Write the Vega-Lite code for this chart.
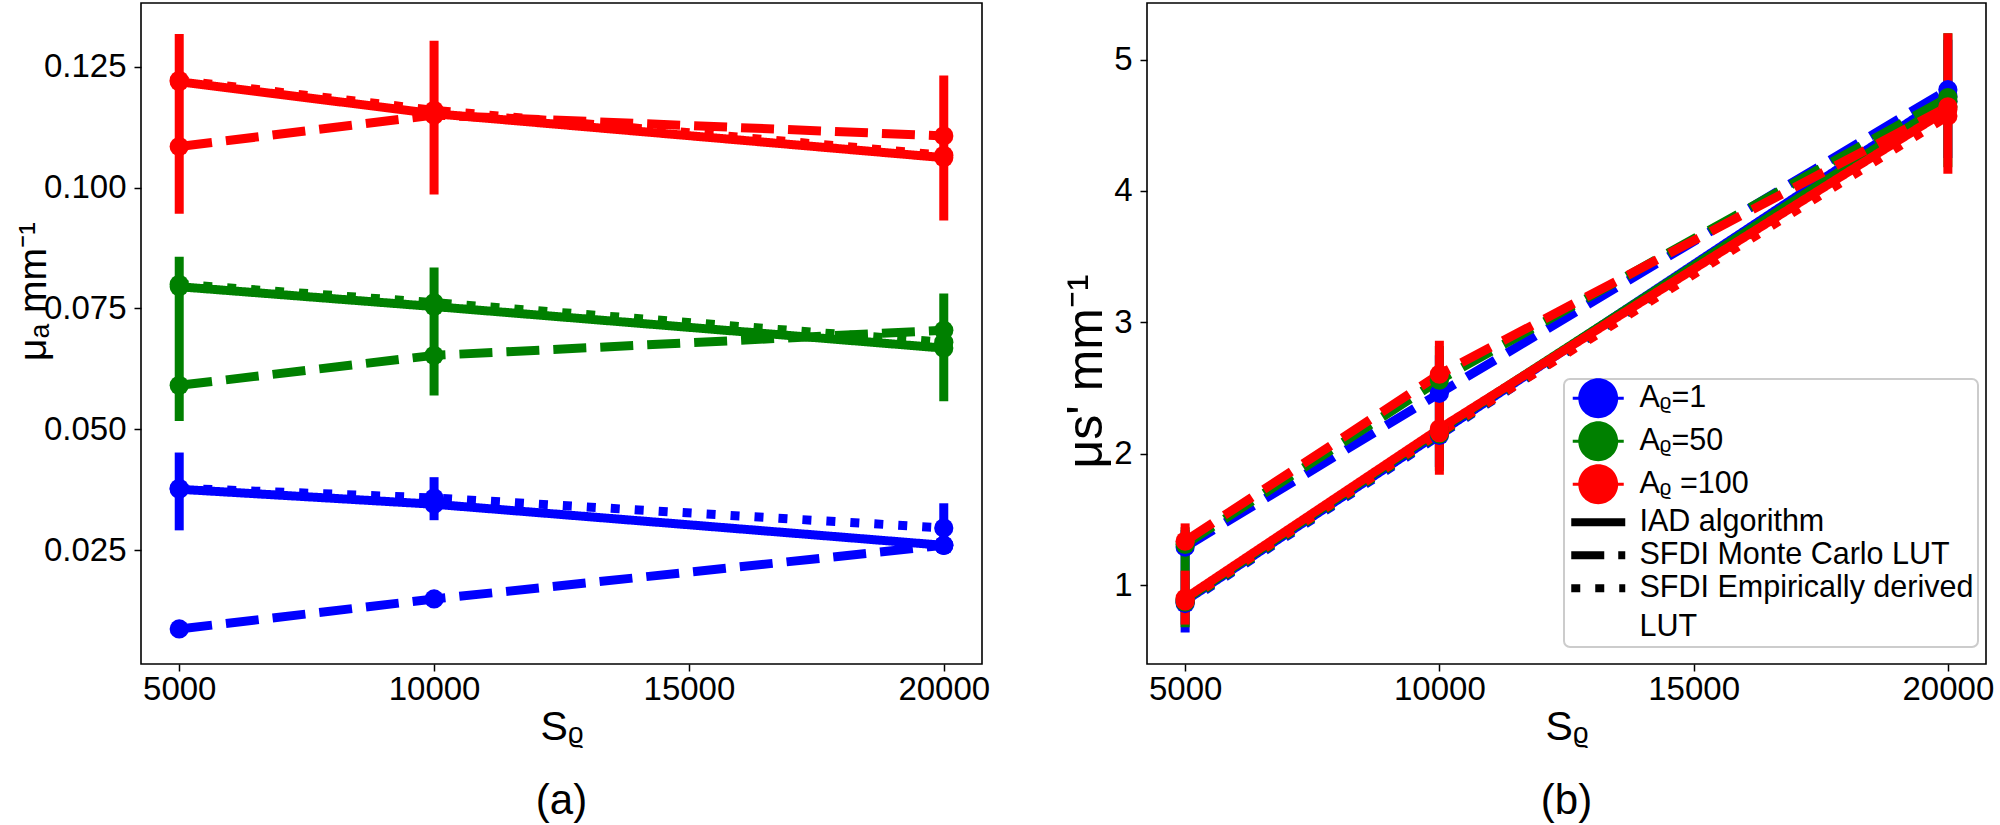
{
  "$schema": "https://vega.github.io/schema/vega-lite/v6.json",
  "background": "white",
  "padding": {"left": 13, "top": 2, "right": 5, "bottom": 0},
  "spacing": 165,
  "bounds": "flush",
  "resolve": {"legend": {"color": "independent"}},
  "datasets": {
    "pts": [
      {"panel": "a", "A": "Aᵨ=1", "method": "IAD algorithm", "S": 5000, "v": 0.0376},
      {"panel": "a", "A": "Aᵨ=1", "method": "IAD algorithm", "S": 10000, "v": 0.0345},
      {"panel": "a", "A": "Aᵨ=1", "method": "IAD algorithm", "S": 20000, "v": 0.0260},
      {"panel": "a", "A": "Aᵨ=1", "method": "SFDI Monte Carlo LUT", "S": 5000, "v": 0.0087},
      {"panel": "a", "A": "Aᵨ=1", "method": "SFDI Monte Carlo LUT", "S": 10000, "v": 0.0149},
      {"panel": "a", "A": "Aᵨ=1", "method": "SFDI Monte Carlo LUT", "S": 20000, "v": 0.0260},
      {"panel": "a", "A": "Aᵨ=1", "method": "SFDI Empirically derived LUT", "S": 5000, "v": 0.0378},
      {"panel": "a", "A": "Aᵨ=1", "method": "SFDI Empirically derived LUT", "S": 10000, "v": 0.0358},
      {"panel": "a", "A": "Aᵨ=1", "method": "SFDI Empirically derived LUT", "S": 20000, "v": 0.0296},
      {"panel": "a", "A": "Aᵨ=50", "method": "IAD algorithm", "S": 5000, "v": 0.0795},
      {"panel": "a", "A": "Aᵨ=50", "method": "IAD algorithm", "S": 10000, "v": 0.0754},
      {"panel": "a", "A": "Aᵨ=50", "method": "IAD algorithm", "S": 20000, "v": 0.0668},
      {"panel": "a", "A": "Aᵨ=50", "method": "SFDI Monte Carlo LUT", "S": 5000, "v": 0.0591},
      {"panel": "a", "A": "Aᵨ=50", "method": "SFDI Monte Carlo LUT", "S": 10000, "v": 0.0653},
      {"panel": "a", "A": "Aᵨ=50", "method": "SFDI Monte Carlo LUT", "S": 20000, "v": 0.0705},
      {"panel": "a", "A": "Aᵨ=50", "method": "SFDI Empirically derived LUT", "S": 5000, "v": 0.0800},
      {"panel": "a", "A": "Aᵨ=50", "method": "SFDI Empirically derived LUT", "S": 10000, "v": 0.0762},
      {"panel": "a", "A": "Aᵨ=50", "method": "SFDI Empirically derived LUT", "S": 20000, "v": 0.0680},
      {"panel": "a", "A": "Aᵨ =100", "method": "IAD algorithm", "S": 5000, "v": 0.1219},
      {"panel": "a", "A": "Aᵨ =100", "method": "IAD algorithm", "S": 10000, "v": 0.1153},
      {"panel": "a", "A": "Aᵨ =100", "method": "IAD algorithm", "S": 20000, "v": 0.1062},
      {"panel": "a", "A": "Aᵨ =100", "method": "SFDI Monte Carlo LUT", "S": 5000, "v": 0.1085},
      {"panel": "a", "A": "Aᵨ =100", "method": "SFDI Monte Carlo LUT", "S": 10000, "v": 0.1150},
      {"panel": "a", "A": "Aᵨ =100", "method": "SFDI Monte Carlo LUT", "S": 20000, "v": 0.1107},
      {"panel": "a", "A": "Aᵨ =100", "method": "SFDI Empirically derived LUT", "S": 5000, "v": 0.1222},
      {"panel": "a", "A": "Aᵨ =100", "method": "SFDI Empirically derived LUT", "S": 10000, "v": 0.1160},
      {"panel": "a", "A": "Aᵨ =100", "method": "SFDI Empirically derived LUT", "S": 20000, "v": 0.1067},
      {"panel": "b", "A": "Aᵨ=1", "method": "IAD algorithm", "S": 5000, "v": 0.88},
      {"panel": "b", "A": "Aᵨ=1", "method": "IAD algorithm", "S": 10000, "v": 2.16},
      {"panel": "b", "A": "Aᵨ=1", "method": "IAD algorithm", "S": 20000, "v": 4.72},
      {"panel": "b", "A": "Aᵨ=1", "method": "SFDI Monte Carlo LUT", "S": 5000, "v": 1.29},
      {"panel": "b", "A": "Aᵨ=1", "method": "SFDI Monte Carlo LUT", "S": 10000, "v": 2.46},
      {"panel": "b", "A": "Aᵨ=1", "method": "SFDI Monte Carlo LUT", "S": 20000, "v": 4.77},
      {"panel": "b", "A": "Aᵨ=1", "method": "SFDI Empirically derived LUT", "S": 5000, "v": 0.86},
      {"panel": "b", "A": "Aᵨ=1", "method": "SFDI Empirically derived LUT", "S": 10000, "v": 2.14},
      {"panel": "b", "A": "Aᵨ=1", "method": "SFDI Empirically derived LUT", "S": 20000, "v": 4.68},
      {"panel": "b", "A": "Aᵨ=50", "method": "IAD algorithm", "S": 5000, "v": 0.89},
      {"panel": "b", "A": "Aᵨ=50", "method": "IAD algorithm", "S": 10000, "v": 2.18},
      {"panel": "b", "A": "Aᵨ=50", "method": "IAD algorithm", "S": 20000, "v": 4.68},
      {"panel": "b", "A": "Aᵨ=50", "method": "SFDI Monte Carlo LUT", "S": 5000, "v": 1.31},
      {"panel": "b", "A": "Aᵨ=50", "method": "SFDI Monte Carlo LUT", "S": 10000, "v": 2.56},
      {"panel": "b", "A": "Aᵨ=50", "method": "SFDI Monte Carlo LUT", "S": 20000, "v": 4.71},
      {"panel": "b", "A": "Aᵨ=50", "method": "SFDI Empirically derived LUT", "S": 5000, "v": 0.87},
      {"panel": "b", "A": "Aᵨ=50", "method": "SFDI Empirically derived LUT", "S": 10000, "v": 2.15},
      {"panel": "b", "A": "Aᵨ=50", "method": "SFDI Empirically derived LUT", "S": 20000, "v": 4.64},
      {"panel": "b", "A": "Aᵨ =100", "method": "IAD algorithm", "S": 5000, "v": 0.90},
      {"panel": "b", "A": "Aᵨ =100", "method": "IAD algorithm", "S": 10000, "v": 2.19},
      {"panel": "b", "A": "Aᵨ =100", "method": "IAD algorithm", "S": 20000, "v": 4.62},
      {"panel": "b", "A": "Aᵨ =100", "method": "SFDI Monte Carlo LUT", "S": 5000, "v": 1.335},
      {"panel": "b", "A": "Aᵨ =100", "method": "SFDI Monte Carlo LUT", "S": 10000, "v": 2.605},
      {"panel": "b", "A": "Aᵨ =100", "method": "SFDI Monte Carlo LUT", "S": 20000, "v": 4.64},
      {"panel": "b", "A": "Aᵨ =100", "method": "SFDI Empirically derived LUT", "S": 5000, "v": 0.88},
      {"panel": "b", "A": "Aᵨ =100", "method": "SFDI Empirically derived LUT", "S": 10000, "v": 2.16},
      {"panel": "b", "A": "Aᵨ =100", "method": "SFDI Empirically derived LUT", "S": 20000, "v": 4.57}
    ],
    "err": [
      {"panel": "a", "A": "Aᵨ=1", "S": 5000, "lo": 0.0291, "hi": 0.0452},
      {"panel": "a", "A": "Aᵨ=1", "S": 10000, "lo": 0.0312, "hi": 0.0401},
      {"panel": "a", "A": "Aᵨ=1", "S": 20000, "lo": 0.0245, "hi": 0.0347},
      {"panel": "a", "A": "Aᵨ=50", "S": 5000, "lo": 0.0517, "hi": 0.0857},
      {"panel": "a", "A": "Aᵨ=50", "S": 10000, "lo": 0.0570, "hi": 0.0835},
      {"panel": "a", "A": "Aᵨ=50", "S": 20000, "lo": 0.0558, "hi": 0.0781},
      {"panel": "a", "A": "Aᵨ =100", "S": 5000, "lo": 0.0946, "hi": 0.1318},
      {"panel": "a", "A": "Aᵨ =100", "S": 10000, "lo": 0.0986, "hi": 0.1304},
      {"panel": "a", "A": "Aᵨ =100", "S": 20000, "lo": 0.0932, "hi": 0.1232},
      {"panel": "b", "A": "Aᵨ=1", "S": 5000, "lo": 0.64, "hi": 1.42},
      {"panel": "b", "A": "Aᵨ=1", "S": 10000, "lo": 1.90, "hi": 2.75},
      {"panel": "b", "A": "Aᵨ=1", "S": 20000, "lo": 4.25, "hi": 5.15},
      {"panel": "b", "A": "Aᵨ=50", "S": 5000, "lo": 0.68, "hi": 1.44},
      {"panel": "b", "A": "Aᵨ=50", "S": 10000, "lo": 1.87, "hi": 2.82},
      {"panel": "b", "A": "Aᵨ=50", "S": 20000, "lo": 4.18, "hi": 5.20},
      {"panel": "b", "A": "Aᵨ =100", "S": 5000, "lo": 0.70, "hi": 1.11},
      {"panel": "b", "A": "Aᵨ =100", "S": 5000, "lo": 1.23, "hi": 1.47},
      {"panel": "b", "A": "Aᵨ =100", "S": 10000, "lo": 1.84, "hi": 2.86},
      {"panel": "b", "A": "Aᵨ =100", "S": 20000, "lo": 4.13, "hi": 5.20}
    ]
  },
  "hconcat": [
    {
      "width": 841,
      "height": 661,
      "title": {"text": "(a)", "orient": "bottom", "anchor": "middle", "frame": "group", "font": "Liberation Sans", "fontSize": 42, "fontWeight": "normal", "color": "black", "offset": 34},
      "layer": [
        {
          "data": {"name": "err"},
          "transform": [{"filter": "datum.panel == 'a'"}],
          "mark": {"type": "rule", "strokeWidth": 9},
          "encoding": {
            "x": {"field": "S", "type": "quantitative", "scale": {"domain": [4250, 20750], "nice": false, "zero": false}, "axis": {"title": "Sᵨ", "values": [5000, 10000, 15000, 20000], "format": "d", "titleY": 75, "titleBaseline": "alphabetic", "titleFontSize": 41}},
            "y": {"field": "lo", "type": "quantitative", "scale": {"domain": [0.00145, 0.1382], "nice": false, "zero": false}, "axis": {"title": "μₐ mm⁻¹", "values": [0.025, 0.05, 0.075, 0.1, 0.125], "format": ".3f", "titleX": -108, "titleY": 288, "titleBaseline": "middle", "titleAlign": "center", "titleFontSize": 39}},
            "y2": {"field": "hi"},
            "color": {"field": "A", "type": "nominal", "scale": {"domain": ["Aᵨ=1", "Aᵨ=50", "Aᵨ =100", "IAD algorithm", "SFDI Monte Carlo LUT", "SFDI Empirically derived LUT"], "range": ["#0000ff", "#008000", "#ff0000", "#000000", "#000000", "#000000"]}, "legend": null}
          }
        },
        {
          "data": {"name": "pts"},
          "transform": [{"filter": "datum.panel == 'a'"}],
          "mark": {"type": "line", "strokeWidth": 9},
          "encoding": {
            "x": {"field": "S", "type": "quantitative", "scale": {"domain": [4250, 20750], "nice": false, "zero": false}, "axis": {"title": "Sᵨ", "values": [5000, 10000, 15000, 20000], "format": "d", "titleY": 75, "titleBaseline": "alphabetic", "titleFontSize": 41}},
            "y": {"field": "v", "type": "quantitative", "scale": {"domain": [0.00145, 0.1382], "nice": false, "zero": false}, "axis": {"title": "μₐ mm⁻¹", "values": [0.025, 0.05, 0.075, 0.1, 0.125], "format": ".3f", "titleX": -108, "titleY": 288, "titleBaseline": "middle", "titleAlign": "center", "titleFontSize": 39}},
            "color": {"field": "A", "type": "nominal", "scale": {"domain": ["Aᵨ=1", "Aᵨ=50", "Aᵨ =100", "IAD algorithm", "SFDI Monte Carlo LUT", "SFDI Empirically derived LUT"], "range": ["#0000ff", "#008000", "#ff0000", "#000000", "#000000", "#000000"]}, "legend": null},
            "strokeDash": {"field": "method", "type": "nominal", "scale": {"domain": ["IAD algorithm", "SFDI Monte Carlo LUT", "SFDI Empirically derived LUT"], "range": [[1, 0], [33, 14], [9, 15]]}, "legend": null}
          }
        },
        {
          "data": {"name": "pts"},
          "transform": [{"filter": "datum.panel == 'a'"}],
          "mark": {"type": "circle", "size": 370, "opacity": 1},
          "encoding": {
            "x": {"field": "S", "type": "quantitative", "scale": {"domain": [4250, 20750], "nice": false, "zero": false}, "axis": {"title": "Sᵨ", "values": [5000, 10000, 15000, 20000], "format": "d", "titleY": 75, "titleBaseline": "alphabetic", "titleFontSize": 41}},
            "y": {"field": "v", "type": "quantitative", "scale": {"domain": [0.00145, 0.1382], "nice": false, "zero": false}, "axis": {"title": "μₐ mm⁻¹", "values": [0.025, 0.05, 0.075, 0.1, 0.125], "format": ".3f", "titleX": -108, "titleY": 288, "titleBaseline": "middle", "titleAlign": "center", "titleFontSize": 39}},
            "color": {"field": "A", "type": "nominal", "scale": {"domain": ["Aᵨ=1", "Aᵨ=50", "Aᵨ =100", "IAD algorithm", "SFDI Monte Carlo LUT", "SFDI Empirically derived LUT"], "range": ["#0000ff", "#008000", "#ff0000", "#000000", "#000000", "#000000"]}, "legend": null}
          }
        }
      ]
    },
    {
      "width": 839,
      "height": 661,
      "title": {"text": "(b)", "orient": "bottom", "anchor": "middle", "frame": "group", "font": "Liberation Sans", "fontSize": 42, "fontWeight": "normal", "color": "black", "offset": 34},
      "layer": [
        {
          "data": {"name": "err"},
          "transform": [{"filter": "datum.panel == 'b'"}],
          "mark": {"type": "rule", "strokeWidth": 9},
          "encoding": {
            "x": {"field": "S", "type": "quantitative", "scale": {"domain": [4250, 20750], "nice": false, "zero": false}, "axis": {"title": "Sᵨ", "values": [5000, 10000, 15000, 20000], "format": "d", "titleY": 75, "titleBaseline": "alphabetic", "titleFontSize": 41}},
            "y": {"field": "lo", "type": "quantitative", "scale": {"domain": [0.40, 5.43], "nice": false, "zero": false}, "axis": {"title": "μs' mm⁻¹", "values": [1, 2, 3, 4, 5], "format": "d", "titleX": -61, "titleY": 368, "titleBaseline": "middle", "titleAlign": "center", "titleFontSize": 50}},
            "y2": {"field": "hi"},
            "color": {"field": "A", "type": "nominal", "scale": {"domain": ["Aᵨ=1", "Aᵨ=50", "Aᵨ =100", "IAD algorithm", "SFDI Monte Carlo LUT", "SFDI Empirically derived LUT"], "range": ["#0000ff", "#008000", "#ff0000", "#000000", "#000000", "#000000"]},
              "legend": {"orient": "none", "legendX": 417, "legendY": 376, "title": null, "labelFont": "Liberation Sans", "labelFontSize": 30.5, "labelColor": "black", "labelLimit": 1000, "labelOffset": 26, "symbolOffset": 15, "symbolSize": 900, "rowPadding": 2, "padding": 4, "fillColor": "white", "strokeColor": "#cccccc", "cornerRadius": 6,
                "labelExpr": "datum.value == 'SFDI Empirically derived LUT' ? ['SFDI Empirically derived', 'LUT'] : datum.label",
                "encode": {
                  "legend": {"update": {"strokeWidth": {"value": 2}}},
                  "symbols": {"update": {
                    "shape": {"signal": "datum.index < 3 ? 'M-1.7,-0.1L1.7,-0.1L1.7,0.1L-1.7,0.1ZM1.33,0C1.33,0.7346,0.7346,1.33,0,1.33C-0.7346,1.33,-1.33,0.7346,-1.33,0C-1.33,-0.7346,-0.7346,-1.33,0,-1.33C0.7346,-1.33,1.33,-0.7346,1.33,0Z' : 'M-1.8,0L1.8,0'"},
                    "fill": {"signal": "datum.index < 3 ? scale('color', datum.value) : 'transparent'"},
                    "stroke": {"signal": "datum.index < 3 ? 'transparent' : scale('color', datum.value)"},
                    "strokeWidth": {"signal": "datum.index < 3 ? 0 : 8"},
                    "strokeJoin": {"value": "round"},
                    "strokeDash": {"signal": "datum.value == 'SFDI Monte Carlo LUT' ? [33, 14] : datum.value == 'SFDI Empirically derived LUT' ? [9, 15] : []"},
                    "opacity": {"value": 1}
                  }},
                  "labels": {"update": {"lineHeight": {"value": 39}}}
                }
              }
            }
          }
        },
        {
          "data": {"name": "pts"},
          "transform": [{"filter": "datum.panel == 'b'"}],
          "mark": {"type": "line", "strokeWidth": 9},
          "encoding": {
            "x": {"field": "S", "type": "quantitative", "scale": {"domain": [4250, 20750], "nice": false, "zero": false}, "axis": {"title": "Sᵨ", "values": [5000, 10000, 15000, 20000], "format": "d", "titleY": 75, "titleBaseline": "alphabetic", "titleFontSize": 41}},
            "y": {"field": "v", "type": "quantitative", "scale": {"domain": [0.40, 5.43], "nice": false, "zero": false}, "axis": {"title": "μs' mm⁻¹", "values": [1, 2, 3, 4, 5], "format": "d", "titleX": -61, "titleY": 368, "titleBaseline": "middle", "titleAlign": "center", "titleFontSize": 50}},
            "color": {"field": "A", "type": "nominal", "scale": {"domain": ["Aᵨ=1", "Aᵨ=50", "Aᵨ =100", "IAD algorithm", "SFDI Monte Carlo LUT", "SFDI Empirically derived LUT"], "range": ["#0000ff", "#008000", "#ff0000", "#000000", "#000000", "#000000"]}},
            "strokeDash": {"field": "method", "type": "nominal", "scale": {"domain": ["IAD algorithm", "SFDI Monte Carlo LUT", "SFDI Empirically derived LUT"], "range": [[1, 0], [33, 14], [9, 15]]}, "legend": null}
          }
        },
        {
          "data": {"name": "pts"},
          "transform": [{"filter": "datum.panel == 'b'"}],
          "mark": {"type": "circle", "size": 370, "opacity": 1},
          "encoding": {
            "x": {"field": "S", "type": "quantitative", "scale": {"domain": [4250, 20750], "nice": false, "zero": false}, "axis": {"title": "Sᵨ", "values": [5000, 10000, 15000, 20000], "format": "d", "titleY": 75, "titleBaseline": "alphabetic", "titleFontSize": 41}},
            "y": {"field": "v", "type": "quantitative", "scale": {"domain": [0.40, 5.43], "nice": false, "zero": false}, "axis": {"title": "μs' mm⁻¹", "values": [1, 2, 3, 4, 5], "format": "d", "titleX": -61, "titleY": 368, "titleBaseline": "middle", "titleAlign": "center", "titleFontSize": 50}},
            "color": {"field": "A", "type": "nominal", "scale": {"domain": ["Aᵨ=1", "Aᵨ=50", "Aᵨ =100", "IAD algorithm", "SFDI Monte Carlo LUT", "SFDI Empirically derived LUT"], "range": ["#0000ff", "#008000", "#ff0000", "#000000", "#000000", "#000000"]}}
          }
        }
      ]
    }
  ],
  "config": {
    "view": {"stroke": "black", "strokeWidth": 1.6},
    "axis": {"domain": false, "grid": false, "labelFont": "Liberation Sans", "labelFontSize": 33, "labelColor": "black", "labelFlush": false, "labelOverlap": false, "labelBound": false, "titleFont": "Liberation Sans", "titleFontWeight": "normal", "titleColor": "black", "tickColor": "black", "tickWidth": 1.5, "tickSize": 7},
    "axisX": {"labelPadding": 2},
    "axisY": {"labelPadding": 8}
  }
}
